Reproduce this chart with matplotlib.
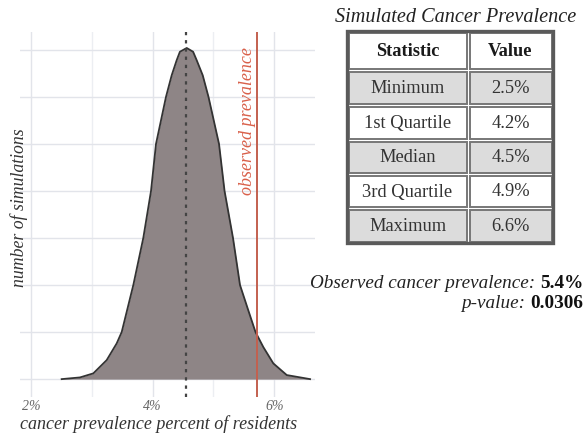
import numpy as np
import matplotlib
matplotlib.use("Agg")
import matplotlib.pyplot as plt
from matplotlib.patches import Rectangle

plt.rcParams["font.family"] = ["Liberation Serif", "DejaVu Serif"]

# density curve (percent, number of simulations)
prevalence = [2.505, 2.806, 3.025, 3.245, 3.410, 3.492, 3.683, 3.847, 3.974,
              4.056, 4.220, 4.314, 4.396, 4.449, 4.561, 4.666, 4.725, 4.824,
              4.919, 5.092, 5.183, 5.322, 5.437, 5.574, 5.692, 5.821, 5.985,
              6.206, 6.589]
simulations = [0, 1.8, 6.1, 20.2, 38, 50, 100, 150, 200,
               250, 300, 323, 339, 348, 352, 348, 339, 323,
               300, 250, 200, 150, 100, 73, 50, 34, 16.7,
               4.3, 0]
sim_mean = 4.55
observed_line = 5.72

xticks = [2, 4, 6]
xtick_labels = ["2%", "4%", "6%"]

table_title = "Simulated Cancer Prevalence"
header = ["Statistic", "Value"]
stat_names = ["Minimum", "1st Quartile", "Median", "3rd Quartile", "Maximum"]
stat_values = ["2.5%", "4.2%", "4.5%", "4.9%", "6.6%"]
observed_value = "5.4%"
p_value = "0.0306"

W, H = 587, 438
fig = plt.figure(figsize=(W / 100, H / 100), dpi=100)
ax = fig.add_axes([20 / W, 1 - 397 / H, 295 / W, 365 / H])

for v in [2, 3, 4, 5, 6]:
    ax.axvline(v, color="#e2e4ea" if v % 2 == 0 else "#eceef2", lw=1.0,
               zorder=0)
for h in range(0, 351, 50):
    ax.axhline(h, color="#e2e4ea", lw=1.0, zorder=0)

ax.fill_between(prevalence, simulations, 0, color="#8e8586", lw=0, zorder=2)
ax.plot(prevalence, simulations, color="#333333", lw=1.3, zorder=3,
        solid_joinstyle="round")
ax.axvline(sim_mean, color="#444444", lw=1.6, ls=(0, (1.5, 2.2)), zorder=4)
ax.axvline(observed_line, color="#c3604f", lw=1.4, zorder=4)
ax.text(observed_line - 0.16, 353, "observed prevalence", rotation=90,
        ha="center", va="top", style="italic", fontsize=13, color="#d9604a",
        zorder=5)

ax.set_xlim(1.82, 6.67)
ax.set_ylim(-19, 369)
ax.set_xticks(xticks)
ax.set_xticklabels(xtick_labels, style="italic", fontsize=10, color="#666666")
ax.set_yticks([])
ax.tick_params(axis="x", length=0, pad=2)
for s in ax.spines.values():
    s.set_visible(False)

# overlay in pixel coordinates for labels, the table and notes
ov = fig.add_axes([0, 0, 1, 1])
ov.set_xlim(0, W)
ov.set_ylim(H, 0)
ov.axis("off")
ov.patch.set_alpha(0)

ov.text(20, 424, "cancer prevalence percent of residents", ha="left",
        va="center", style="italic", fontsize=13, color="#333333")
ov.text(19, 208, "number of simulations", rotation=90, ha="center",
        va="center", style="italic", fontsize=12.8, color="#333333")

ov.text(456, 18, table_title, ha="center", va="center", style="italic",
        fontsize=14.6, color="#222222")
left, mid, right = 347, 468, 553
row_edges = [31, 70, 105, 140, 174, 208, 243]
for i in range(len(row_edges) - 1):
    y0, y1 = row_edges[i], row_edges[i + 1]
    face = "#dcdcdc" if i % 2 == 1 else "white"
    for x0, x1 in [(left, mid), (mid, right)]:
        ov.add_patch(Rectangle((x0 + 1.5, y0 + 1.5), x1 - x0 - 3,
                               y1 - y0 - 3, facecolor=face,
                               edgecolor="#777777", lw=1.4))
    yc = (y0 + y1) / 2 + 1
    if i == 0:
        cells = header
        kw = dict(fontweight="bold", fontsize=13.2, color="#1a1a1a")
    else:
        cells = [stat_names[i - 1], stat_values[i - 1]]
        kw = dict(fontsize=13.3, color="#333333")
    ov.text((left + mid) / 2, yc, cells[0], ha="center", va="center", **kw)
    ov.text((mid + right) / 2, yc, cells[1], ha="center", va="center", **kw)
ov.add_patch(Rectangle((left, row_edges[0]), right - left,
                       row_edges[-1] - row_edges[0], facecolor="none",
                       edgecolor="#5a5a5a", lw=2.4))

# observed prevalence and p-value, italic label + bold number
renderer = fig.canvas.get_renderer()
for y, label, val in [(283, "Observed cancer prevalence: ", observed_value),
                      (304, "p-value: ", p_value)]:
    t = ov.text(583, y, val, ha="right", va="center", fontweight="bold",
                fontsize=13.8, color="#111111")
    bb = t.get_window_extent(renderer)
    ov.text(583 - bb.width * 100 / fig.dpi, y, label, ha="right",
            va="center", style="italic", fontsize=13.8, color="#222222")

fig.savefig("out.png", dpi=100)
